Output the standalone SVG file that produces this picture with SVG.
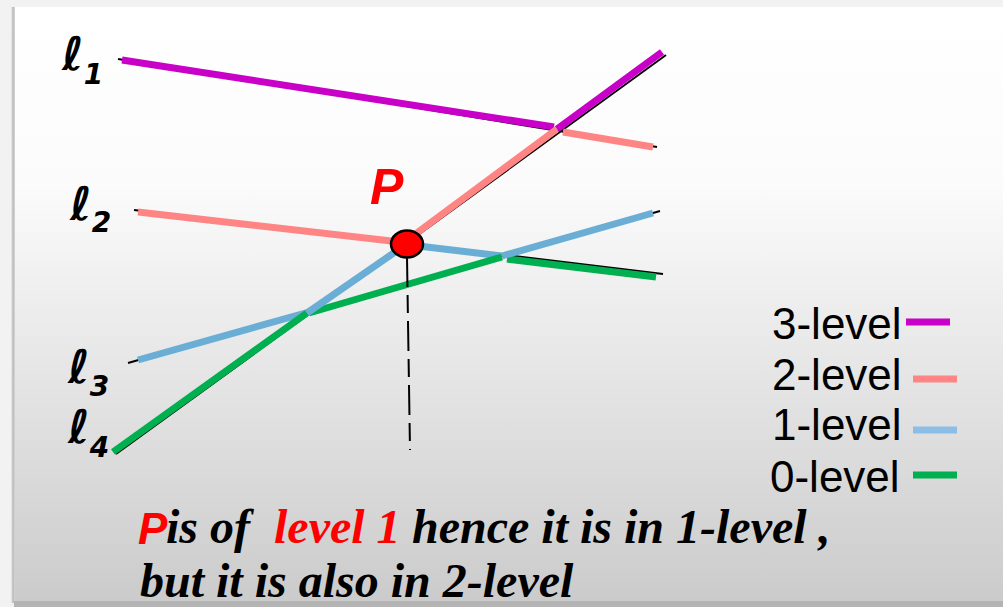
<svg xmlns="http://www.w3.org/2000/svg" width="1003" height="607" viewBox="0 0 1003 607">
<defs>
<linearGradient id="bg" x1="0" y1="0" x2="0" y2="1">
<stop offset="0" stop-color="#ffffff"/>
<stop offset="0.3" stop-color="#fbfbfb"/>
<stop offset="1" stop-color="#cbcbcb"/>
</linearGradient>
<linearGradient id="shadow" x1="0" y1="0" x2="1" y2="0">
<stop offset="0" stop-color="#f2f2f2"/>
<stop offset="0.5" stop-color="#b8b8b8"/>
<stop offset="1" stop-color="#d8d8d8"/>
</linearGradient>
<style>
.blk{stroke:#000;stroke-width:2;fill:none}
.seg{stroke-width:7;fill:none;stroke-linecap:butt}
.c3{stroke:#c800c8}
.c2{stroke:#ff8585}
.c1{stroke:#6aaed6}
.c1l{stroke:#8cbde6}
.c0{stroke:#00b050}
.lab{font-family:"DejaVu Sans",sans-serif;font-weight:bold;font-style:italic;fill:#000}
.leg{font-family:"Liberation Sans",Arial,sans-serif;font-size:44px;fill:#000}
.cap{font-family:"Liberation Serif","Times New Roman",serif;font-size:48px;font-style:italic;font-weight:bold;fill:#000}
.red{fill:#ff0000}
</style>
</defs>
<rect x="0" y="0" width="1003" height="607" fill="#f2f2f2"/>
<rect x="14" y="7" width="989" height="596" fill="url(#bg)"/>
<rect x="11" y="7" width="4" height="596" fill="url(#shadow)"/>
<rect x="14" y="601" width="989" height="6" fill="#b4b4b4"/>

<g id="connectors">
<g id="black-lines">
<line class="blk" x1="118" y1="59" x2="657" y2="147"/>
<line class="blk" x1="134" y1="210" x2="663" y2="274"/>
<line class="blk" x1="128" y1="363" x2="660" y2="211"/>
<line class="blk" x1="116" y1="454" x2="666" y2="55"/>
</g>
<g id="l1">
<line class="seg c3" x1="122" y1="60" x2="554" y2="127"/>
<line class="seg c2" x1="563" y1="132" x2="653" y2="147"/>
</g>
<g id="l2">
<line class="seg c2" x1="138" y1="212" x2="400" y2="242"/>
<line class="seg c1" x1="410" y1="245" x2="502" y2="256"/>
<line class="seg c0" x1="507" y1="259" x2="656" y2="277"/>
</g>
<g id="l3">
<line class="seg c1" x1="138" y1="360" x2="309" y2="312"/>
<line class="seg c0" x1="309" y1="313" x2="502" y2="257"/>
<line class="seg c1" x1="502" y1="256" x2="653" y2="213"/>
</g>
<g id="l4">
<line class="seg c0" x1="113" y1="452" x2="307" y2="313"/>
<line class="seg c1" x1="307" y1="313" x2="398" y2="250"/>
<line class="seg c2" x1="410" y1="238" x2="557" y2="129"/>
<line class="seg c3" x1="557" y1="129" x2="662" y2="52"/>
</g>
<line id="drop" x1="407" y1="257" x2="410" y2="450" stroke="#000" stroke-width="2" stroke-dasharray="30 8 18 8"/>
</g>

<g id="P">
<ellipse cx="407" cy="244" rx="16" ry="13.5" fill="#ff0000" stroke="#000" stroke-width="2.5"/>
<text x="370" y="204" font-family="Liberation Sans,Arial,sans-serif" font-size="50" font-weight="bold" font-style="italic" fill="#ff0000">P</text>
</g>

<g id="labels">
<text class="lab" x="62" y="70" font-size="46">ℓ<tspan dy="14" font-size="28">1</tspan></text>
<text class="lab" x="70" y="220" font-size="46">ℓ<tspan dy="12" font-size="28">2</tspan></text>
<text class="lab" x="68" y="383" font-size="46">ℓ<tspan dy="13" font-size="28">3</tspan></text>
<text class="lab" x="68" y="443" font-size="46">ℓ<tspan dy="14" font-size="28">4</tspan></text>
</g>

<g id="legend">
<text class="leg" x="772" y="339">3-level</text>
<line class="seg c3" x1="906" y1="322" x2="950" y2="322"/>
<text class="leg" x="772" y="390">2-level</text>
<line class="seg c2" x1="913" y1="379" x2="957" y2="379"/>
<text class="leg" x="772" y="440">1-level</text>
<line class="seg c1l" x1="913" y1="430" x2="957" y2="430"/>
<text class="leg" x="770" y="492">0-level</text>
<line class="seg c0" x1="913" y1="475" x2="957" y2="475"/>
</g>

<g id="caption">
<text x="138" y="544" font-family="Liberation Sans,Arial,sans-serif" font-size="44" font-weight="bold" font-style="italic" fill="#ff0000">P</text>
<text class="cap" x="166" y="543">is of</text>
<text class="cap red" x="274" y="543">level 1</text>
<text class="cap" x="412" y="543">hence it is in 1-level ,</text>
<text class="cap" x="140" y="597">but it is also in 2-level</text>
</g>
</svg>
